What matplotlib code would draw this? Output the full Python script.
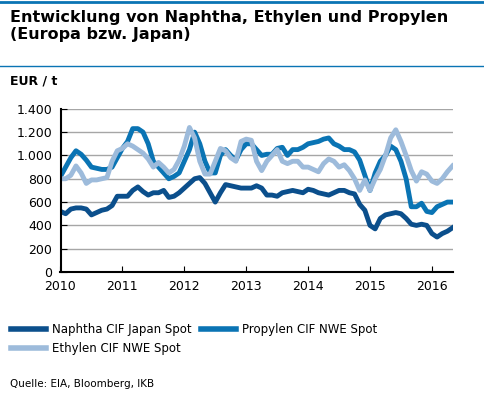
import matplotlib
matplotlib.use("Agg")
import matplotlib.pyplot as plt
from matplotlib.lines import Line2D
import numpy as np

naphtha = [520, 500, 540, 550, 550, 540, 490, 510, 530, 540, 570, 650,
           650, 650, 700, 730, 690, 660, 680, 680, 700, 640, 650, 680,
           720, 760, 800, 810, 760, 680, 600, 680, 750, 740, 730, 720,
           720, 720, 740, 720, 660, 660, 650, 680, 690, 700, 690, 680,
           710, 700, 680, 670, 660, 680, 700, 700, 680, 670, 580, 530,
           400, 370, 460, 490, 500, 510, 500, 460, 410, 400, 410, 400,
           330, 300, 330, 350, 380]
propylen = [820, 900, 980, 1040, 1010, 960, 900, 890, 880, 880, 900, 980,
            1060, 1120, 1230, 1230, 1200, 1100, 950, 900, 850, 800, 820, 850,
            950, 1050, 1200, 1100, 950, 850, 850, 1000, 1050, 1000, 960, 1050,
            1100, 1100, 1050, 1000, 1010, 1010, 1060, 1070, 1000, 1050, 1050, 1070,
            1100, 1110, 1120, 1140, 1150, 1100, 1080, 1050, 1050, 1030, 960, 830,
            700, 850, 950, 1000, 1080, 1050, 950, 800, 560, 560, 590, 520,
            510, 560, 580, 600, 600]
ethylen = [800, 800, 830, 910, 850, 760, 790, 790, 800, 810, 950, 1040,
           1060, 1100, 1080, 1050, 1020, 970, 900, 940, 900, 850, 880, 960,
           1080, 1240, 1150, 950, 840, 840, 950, 1060, 1040, 980, 950, 1120,
           1140, 1130, 950, 870, 950, 1000, 1050, 950, 930, 950, 950, 900,
           900, 880, 860, 930, 970, 950, 900, 920, 870, 800, 700, 790,
           700, 800, 880, 1000, 1150, 1220, 1120, 1000, 870, 780, 860, 840,
           780, 760, 800, 860, 910]
x = 2010 + np.arange(len(naphtha)) / 12.0
years = [2010, 2011, 2012, 2013, 2014, 2015, 2016]
yticks = [0, 200, 400, 600, 800, 1000, 1200, 1400]

fig = plt.figure(figsize=(4.84, 4.03), dpi=100)
ax = fig.add_axes([0.125, 0.325, 0.81, 0.405])

ax.plot(x, naphtha, color="#0b4f8c", linewidth=3.5)
ax.plot(x, propylen, color="#0a74b4", linewidth=3.5)
ax.plot(x, ethylen, color="#9dbbdb", linewidth=3.5)

ax.set_xlim(2010, x[-1])
ax.set_ylim(0, 1400)
ax.set_xticks(years)
ax.set_yticks(yticks)
ax.set_yticklabels([f"{v:,}".replace(",", ".") for v in yticks])
ax.grid(axis="y", color="#a6a6a6", linewidth=1)
ax.set_axisbelow(True)
for s in ["top", "right"]:
    ax.spines[s].set_visible(False)
ax.spines["left"].set_linewidth(1.5)
ax.spines["bottom"].set_linewidth(1.5)
ax.tick_params(labelsize=9, length=4, direction="in")
ax.tick_params(axis="x", pad=6)
ax.tick_params(axis="y", pad=6)

fig.text(0.02, 0.79, "EUR / t", fontsize=9, fontweight="bold")
fig.text(0.02, 0.975, "Entwicklung von Naphtha, Ethylen und Propylen\n(Europa bzw. Japan)",
         fontsize=11.5, fontweight="bold", va="top", linespacing=1.2)
fig.add_artist(Line2D([0.0, 1.0], [0.995, 0.995], color="#0a74b4", linewidth=2))
fig.add_artist(Line2D([0.0, 1.0], [0.835, 0.835], color="#0a74b4", linewidth=1))

handles = [Line2D([], [], color="#0b4f8c", lw=4),
           Line2D([], [], color="#9dbbdb", lw=4),
           Line2D([], [], color="#0a74b4", lw=4)]
labels = ["Naphtha CIF Japan Spot", "Ethylen CIF NWE Spot", "Propylen CIF NWE Spot"]
fig.legend(handles, labels, loc="upper left", bbox_to_anchor=(0.0, 0.225), ncol=2,
           frameon=False, fontsize=8.5, handlelength=3, columnspacing=0.8,
           handletextpad=0.5)
fig.text(0.02, 0.04, "Quelle: EIA, Bloomberg, IKB", fontsize=7.5)

fig.savefig("out.png", dpi=100)
